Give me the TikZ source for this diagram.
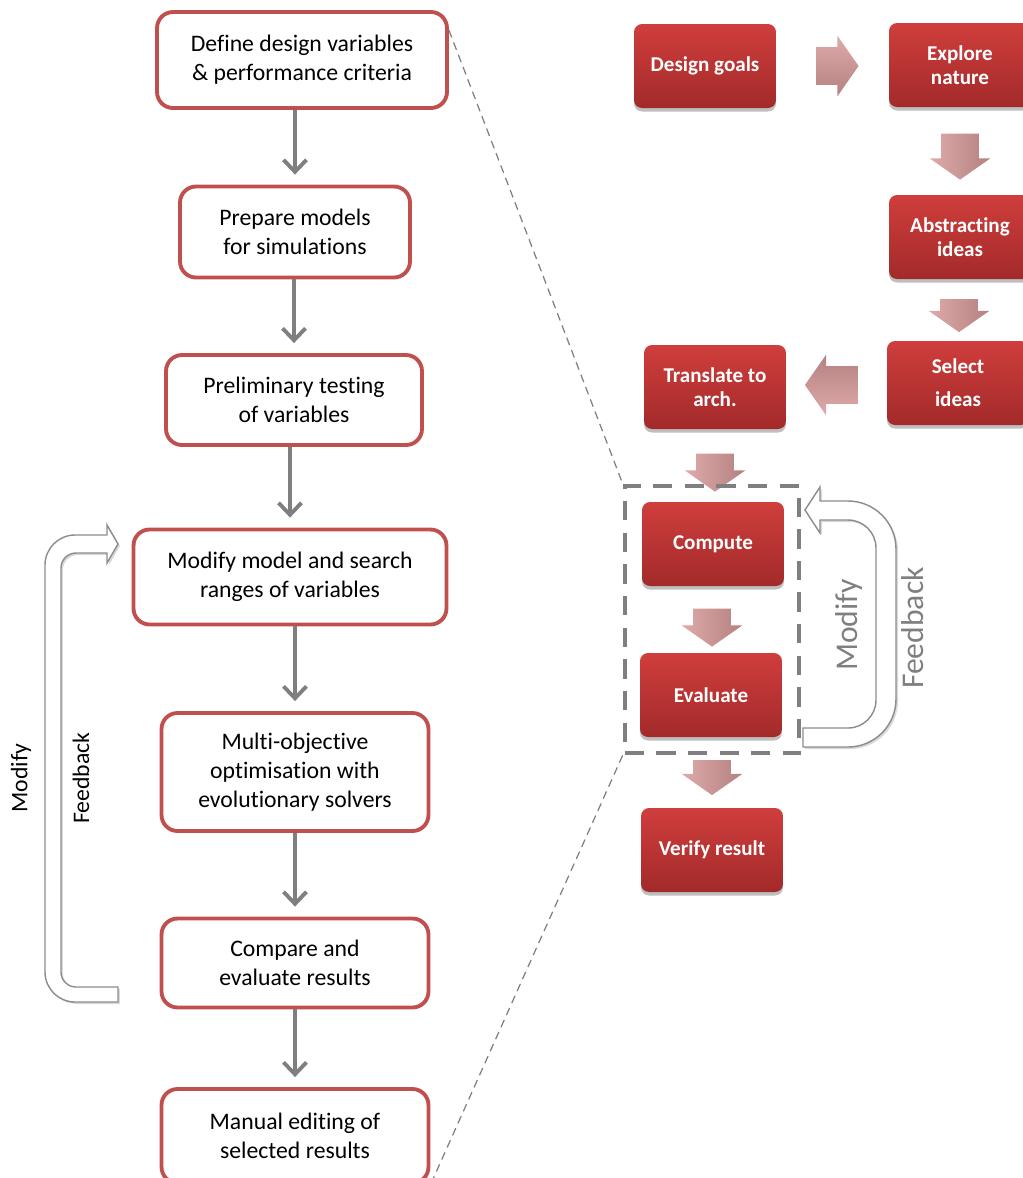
\documentclass[tikz,border=0pt]{standalone}
\usepackage{fontspec}
\setmainfont[RawFeature={-liga}]{Carlito}
\usetikzlibrary{arrows.meta,shapes.arrows,shadows,fit}

\definecolor{boxred}{RGB}{192,80,77}
\definecolor{redtop}{RGB}{207,62,60}
\definecolor{redbot}{RGB}{163,42,42}
\definecolor{pinktop}{RGB}{223,170,170}
\definecolor{pinkbot}{RGB}{180,128,128}
\definecolor{linegray}{RGB}{127,127,127}
\definecolor{hollowgray}{RGB}{140,140,140}

\tikzset{
  stepbox/.style={draw=boxred,line width=2.2pt,rounded corners=0.32cm,fill=white,
    align=center,inner sep=0pt,font=\fontsize{13.5}{16.5}\selectfont},
  redbox/.style={rounded corners=0.16cm,top color=redtop,bottom color=redbot,
    text=white,align=center,inner sep=0pt,minimum width=2.84cm,minimum height=1.68cm,
    font=\bfseries\fontsize{12}{13.6}\selectfont,
    drop shadow={shadow xshift=0pt,shadow yshift=-0.07cm,opacity=0.25,fill=black}},
  flow/.style={linegray,line width=2.2pt,shorten >=0.2cm,
    -{Straight Barb[length=0.24cm,width=0.46cm]}},
  pink/.style={single arrow,draw=none,inner xsep=0pt,inner ysep=0.37cm,
    single arrow head extend=0.23cm,single arrow tip angle=110},
  pinkright/.style={pink,top color=pinktop,bottom color=pinkbot},
  pinkdown/.style={pink,rotate=-90,left color=pinktop,right color=pinkbot},
  pinkleft/.style={pink,rotate=180,top color=pinkbot,bottom color=pinktop},
  loopbox/.style={draw=linegray,line width=2.3pt,dash pattern=on 11pt off 7pt,
    inner xsep=0.3cm,inner ysep=0.32cm},
  hollow/.style={draw=hollowgray,line width=0.8pt,fill=white,
    drop shadow={shadow xshift=0.04cm,shadow yshift=-0.04cm,opacity=0.15,fill=black}},
  zoomline/.style={linegray,line width=0.7pt,dash pattern=on 4.5pt off 3pt}
}

\begin{document}
\begin{tikzpicture}[x=0.02cm,y=-0.02cm]
  \useasboundingbox (0,0) rectangle (1023,1178);

  % optimisation steps
  \node[stepbox,minimum width=5.8cm,minimum height=1.92cm] (define) at (302,60)
    {Define design variables\\ \& performance criteria};
  \node[stepbox,minimum width=4.6cm,minimum height=1.82cm] (prepare) at (295,232)
    {Prepare models\\ for simulations};
  \node[stepbox,minimum width=5.12cm,minimum height=1.8cm] (prelim) at (294,400)
    {Preliminary testing\\ of variables};
  \node[stepbox,minimum width=6.26cm,minimum height=1.9cm] (modify) at (290,577)
    {Modify model and search\\ ranges of variables};
  \node[stepbox,minimum width=5.34cm,minimum height=2.36cm] (multi) at (295,772)
    {Multi-objective\\ optimisation with\\ evolutionary solvers};
  \node[stepbox,minimum width=5.34cm,minimum height=1.78cm] (compare) at (295,963)
    {Compare and\\ evaluate results};
  \node[stepbox,minimum width=5.34cm,minimum height=1.88cm] (manual) at (295,1136)
    {Manual editing of\\ selected results};

  \draw[flow] (define.south -| prepare.north) -- (prepare.north);
  \draw[flow] (prepare.south -| prelim.north) -- (prelim.north);
  \draw[flow] (prelim.south -| modify.north) -- (modify.north);
  \draw[flow] (modify.south -| multi.north) -- (multi.north);
  \draw[flow] (multi.south) -- (compare.north);
  \draw[flow] (compare.south) -- (manual.north);

  % feedback loop on the left
  \draw[hollow] (118,1002) -- (75,1002) arc (90:180:30) -- (45,565) arc (180:270:30)
    -- (107,535) -- (107,525) -- (118,544) -- (107,563) -- (107,553)
    -- (76,553) arc (270:180:15) -- (61,972) arc (180:90:15) -- (118,987) -- cycle;
  \node[rotate=90,font=\fontsize{13.5}{16}\selectfont] (modifyL) at (21,778) {Modify};
  \node[rotate=90,font=\fontsize{13.5}{16}\selectfont] (feedbackL) at (81,778) {Feedback};

  % design process
  \node[redbox] (goals) at (705,66) {Design goals};
  \node[redbox] (explore) at (960,65) {Explore\\ nature};
  \node[redbox] (abstract) at (960,237) {Abstracting\\ ideas};
  \node[redbox] (select) at (958,383) {Select\\[5pt] ideas};
  \node[redbox] (translate) at (715,387) {Translate to\\ arch.};
  \node[redbox] (compute) at (713,544) {Compute};
  \node[redbox] (evaluate) at (711,695) {Evaluate};
  \node[redbox] (verify) at (712,850) {Verify result};

  \node[pinkright,minimum height=0.84cm] (a1) at (831,66) {};
  \node[pinkdown,minimum height=0.92cm] (a2) at (960,150) {};
  \node[pinkdown,minimum height=0.66cm] (a3) at (959,309) {};
  \node[pinkleft,minimum height=1.06cm] (a4) at (838,385) {};
  \node[pinkdown,minimum height=0.76cm] (a5) at (715,466) {};
  \node[pinkdown,minimum height=0.76cm] (a6) at (712,621) {};
  \node[pinkdown,minimum height=0.7cm] (a7) at (712,771) {};

  \node[loopbox,fit=(compute)(evaluate)] (loop) {};

  % feedback loop on the right
  \draw[hollow] (803,747) -- (848,747) arc (90:0:48) -- (896,549) arc (0:-90:48)
    -- (820,501) -- (820,487) -- (805,510) -- (820,533) -- (820,520)
    -- (848,520) arc (-90:0:28) -- (876,700) arc (0:90:28) -- (803,728) -- cycle;
  \node[rotate=90,text=linegray,font=\fontsize{18}{20}\selectfont] (modifyR) at (849,625) {Modify};
  \node[rotate=90,text=linegray,font=\fontsize{18}{20}\selectfont] (feedbackR) at (913,628) {Feedback};

  % links between the two diagrams
  \draw[zoomline] ([yshift=-0.4cm]define.north east) -- (loop.north west);
  \draw[zoomline] (loop.south west) -- (manual.south east);
\end{tikzpicture}
\end{document}
